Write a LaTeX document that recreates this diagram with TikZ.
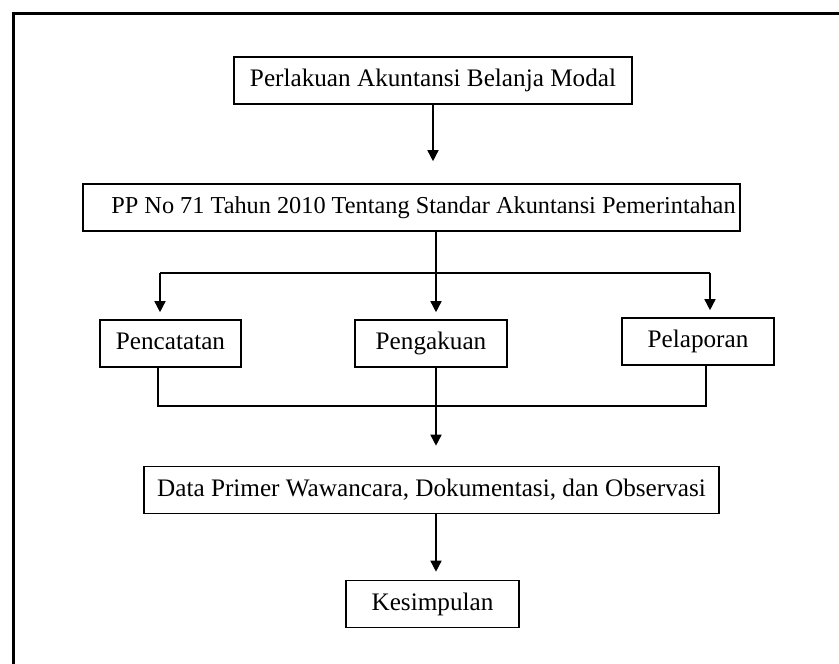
\documentclass[tikz,border=0pt]{standalone}
\usepackage{fontspec}
\setmainfont{Liberation Serif}
\usetikzlibrary{arrows.meta}
\begin{document}
\begin{tikzpicture}[x=1pt,y=-1pt,>={Triangle[length=11pt,width=11pt]},
  box/.style={draw,line width=1.6pt,minimum height=47pt,inner sep=0pt,
    text height=17pt,text depth=5pt,font=\fontsize{25.2}{29}\selectfont},
  every path/.style={line width=1.5pt}]
 \useasboundingbox (0,0) rectangle (839,664);
 % outer frame (runs off the page on the right and at the bottom)
 \draw[line width=3pt] (13,700) -- (13,13) -- (880,13);
 \node[box,minimum width=398pt] (top) at (433,80.5) {Perlakuan Akuntansi Belanja Modal};
 \node[box,minimum width=657pt,font=\fontsize{24.3}{28}\selectfont] (pp) at (411.5,207.5) {\hspace*{24pt}PP No 71 Tahun 2010 Tentang Standar Akuntansi Pemerintahan};
 \node[box,minimum width=141pt] (cat) at (170.5,343.5) {Pencatatan};
 \node[box,minimum width=152pt] (ack) at (431,343.5) {Pengakuan};
 \node[box,minimum width=152pt] (rep) at (698,341.5) {Pelaporan};
 \node[box,minimum width=575pt] (data) at (431.5,490) {Data Primer Wawancara, Dokumentasi, dan Observasi};
 \node[box,minimum width=173pt] (end) at (432.5,604) {Kesimpulan};
 \coordinate (split) at (436,273);
 \coordinate (splitL) at (160,273);
 \coordinate (splitR) at (710,273);
 \coordinate (merge) at (436,406);
 \coordinate (joinL) at (158,406);
 \coordinate (joinR) at (706,406);
 \draw[->] (top.south) -- ([yshift=22pt]top.south |- pp.north);
 \draw (split |- pp.south) -- (split);
 \draw (splitL) -- (splitR);
 \draw[->] (splitL) -- ([yshift=7pt]splitL |- cat.north);
 \draw[->] (split) -- ([yshift=7pt]split |- ack.north);
 \draw[->] (splitR) -- ([yshift=7pt]splitR |- rep.north);
 \draw (joinL |- cat.south) -- (joinL) -- (joinR) -- (joinR |- rep.south);
 \draw (merge |- ack.south) -- (merge);
 \draw[->] (merge) -- ([yshift=20pt]merge |- data.north);
 \draw[->] (merge |- data.south) -- ([yshift=8pt]merge |- end.north);
\end{tikzpicture}
\end{document}
